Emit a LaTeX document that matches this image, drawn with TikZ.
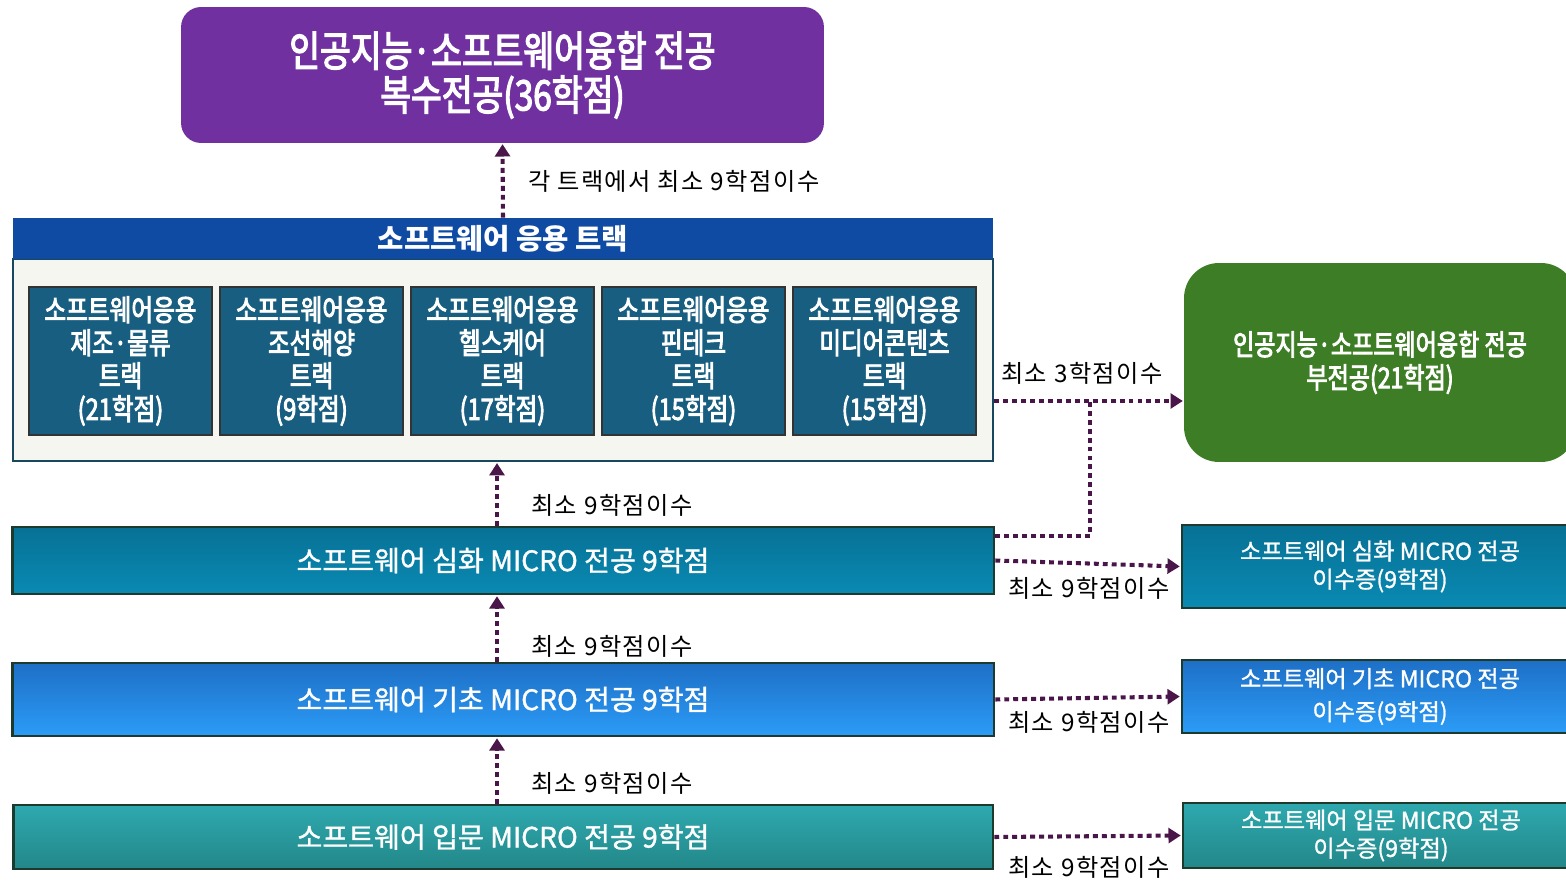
\documentclass[tikz,border=0pt]{standalone}
\usepackage{fontspec}
\setmainfont{Noto Sans CJK KR}
\newfontfamily\krnarrow[FakeStretch=0.8, FakeBold=3]{Noto Sans CJK KR}
\newfontfamily\krmid[FakeBold=1.2]{Noto Sans CJK KR}
\newfontfamily\krnote[LetterSpace=6]{Noto Sans CJK KR}
\usetikzlibrary{arrows.meta}

\definecolor{majorviolet}{HTML}{7030A0}
\definecolor{trackhead}{HTML}{0F4AA3}
\definecolor{trackpaper}{HTML}{F5F6F0}
\definecolor{trackline}{HTML}{17485F}
\definecolor{trackfill}{HTML}{175E80}
\definecolor{minorgreen}{HTML}{3D7D25}
\definecolor{arrowplum}{HTML}{4A1549}
\definecolor{barline}{HTML}{1C3B2C}
\definecolor{advtop}{HTML}{077195}
\definecolor{advbot}{HTML}{0A8AB3}
\definecolor{bastop}{HTML}{1E6FC6}
\definecolor{basbot}{HTML}{2B9CF7}
\definecolor{intop}{HTML}{2EA9AF}
\definecolor{inbot}{HTML}{238789}

\begin{document}
\begin{tikzpicture}[
        x=0.02cm, y=-0.02cm,
        >={Triangle[length=7pt,width=8.5pt]},
        track/.style={draw=black!80, line width=1pt, fill=trackfill,
                      minimum width=3.66cm, minimum height=2.96cm,
                      align=center, text=white,
                      font=\krnarrow\fontsize{16.8}{18.8}\selectfont},
        bar/.style={draw=barline, line width=1.6pt,
                    minimum width=19.64cm, align=center, text=white,
                    font=\krmid\fontsize{16}{18}\selectfont},
        cert/.style={draw=barline, line width=1.6pt,
                     minimum width=7.92cm, align=center, text=white,
                     font=\krmid\fontsize{13.2}{16}\selectfont},
        note/.style={anchor=west, text=black, font=\krnote\fontsize{13.8}{16}\selectfont},
        arr/.style={->, draw=arrowplum, line width=2.3pt,
                    dash pattern=on 2.8pt off 2.3pt, shorten >=0.5pt}
      ]
        \clip (0,0) rectangle (1566,881);

        % double major
        \node[fill=majorviolet, rounded corners=0.4cm,
              minimum width=12.86cm, minimum height=2.72cm,
              align=center, text=white,
              font=\krnarrow\fontsize{23.8}{25}\selectfont] (major) at (502.5,75)
          {인공지능·소프트웨어융합 전공\\복수전공(36학점)};

        % application tracks
        \node[draw=trackline, line width=1.4pt, fill=trackpaper,
              minimum width=19.6cm, minimum height=4.04cm] (tracks) at (503,360) {};
        \node[fill=trackhead, minimum width=19.6cm, minimum height=0.82cm,
              text=white, font=\bfseries\fontsize{16.3}{18}\selectfont] (head) at (503,238.5)
          {소프트웨어 응용 트랙};
        \node[track] (t1) at (120.5,361) {소프트웨어응용\\제조·물류\\트랙\\(21학점)};
        \node[track] (t2) at (311.5,361) {소프트웨어응용\\조선해양\\트랙\\(9학점)};
        \node[track] (t3) at (502.5,361) {소프트웨어응용\\헬스케어\\트랙\\(17학점)};
        \node[track] (t4) at (693.5,361) {소프트웨어응용\\핀테크\\트랙\\(15학점)};
        \node[track] (t5) at (884.5,361) {소프트웨어응용\\미디어콘텐츠\\트랙\\(15학점)};

        % micro majors
        \node[bar, minimum height=1.34cm, top color=advtop, bottom color=advbot] (adv) at (503,560.5)
          {소프트웨어 심화 MICRO 전공 9학점};
        \node[bar, minimum height=1.46cm, top color=bastop, bottom color=basbot] (bas) at (503,699.5)
          {소프트웨어 기초 MICRO 전공 9학점};
        \node[bar, minimum width=19.6cm, minimum height=1.28cm,
              top color=intop, bottom color=inbot] (intro) at (503,837)
          {소프트웨어 입문 MICRO 전공 9학점};

        % minor and certificates
        \node[fill=minorgreen, rounded corners=0.7cm,
              minimum width=7.84cm, minimum height=3.98cm,
              align=center, text=white,
              font=\krnarrow\fontsize{16.4}{18.8}\selectfont] (minor) at (1380,362.5)
          {인공지능·소프트웨어융합 전공\\부전공(21학점)};
        \node[cert, minimum height=1.66cm, top color=advtop, bottom color=advbot] (advc) at (1380,566.5)
          {소프트웨어 심화 MICRO 전공\\이수증(9학점)};
        \node[cert, minimum height=1.46cm, top color=bastop, bottom color=basbot,
              font=\krmid\fontsize{13.2}{18.8}\selectfont] (basc) at (1380,696.5)
          {소프트웨어 기초 MICRO 전공\\이수증(9학점)};
        \node[cert, minimum height=1.3cm, top color=intop, bottom color=inbot] (introc) at (1381,835.5)
          {소프트웨어 입문 MICRO 전공\\이수증(9학점)};

        \coordinate (join) at (1090,401);
        \coordinate (joinb) at (1090,536);

        % connectors
        \draw[arr] (head.north) -- (major.south);
        \draw[arr] ([xshift=-0.12cm]adv.north) -- ([xshift=-0.12cm]tracks.south);
        \draw[arr] ([xshift=-0.12cm]bas.north) -- ([xshift=-0.12cm]adv.south);
        \draw[arr] ([xshift=-0.12cm]intro.north) -- ([xshift=-0.12cm]bas.south);
        \draw[arr] (tracks.east |- join) -- (minor.west |- join);
        \draw[arr, -] (adv.east |- joinb) -- (joinb) -- (join);
        \draw[arr] (adv.east) -- (advc.west);
        \draw[arr] (bas.east) -- (basc.west);
        \draw[arr] (intro.east) -- (introc.west);

        % labels
        \node[note] (lmajor) at (522,181) {각 트랙에서 최소 9학점이수};
        \node[note] (ladv) at (525,505) {최소 9학점이수};
        \node[note] (lbas) at (525,646) {최소 9학점이수};
        \node[note] (lintro) at (525,783) {최소 9학점이수};
        \node[note] (lminor) at (995,373) {최소 3학점이수};
        \node[note] (ladvc) at (1002,588) {최소 9학점이수};
        \node[note] (lbasc) at (1002,722) {최소 9학점이수};
        \node[note] (lintroc) at (1002,867) {최소 9학점이수};
      \end{tikzpicture}
\end{document}
